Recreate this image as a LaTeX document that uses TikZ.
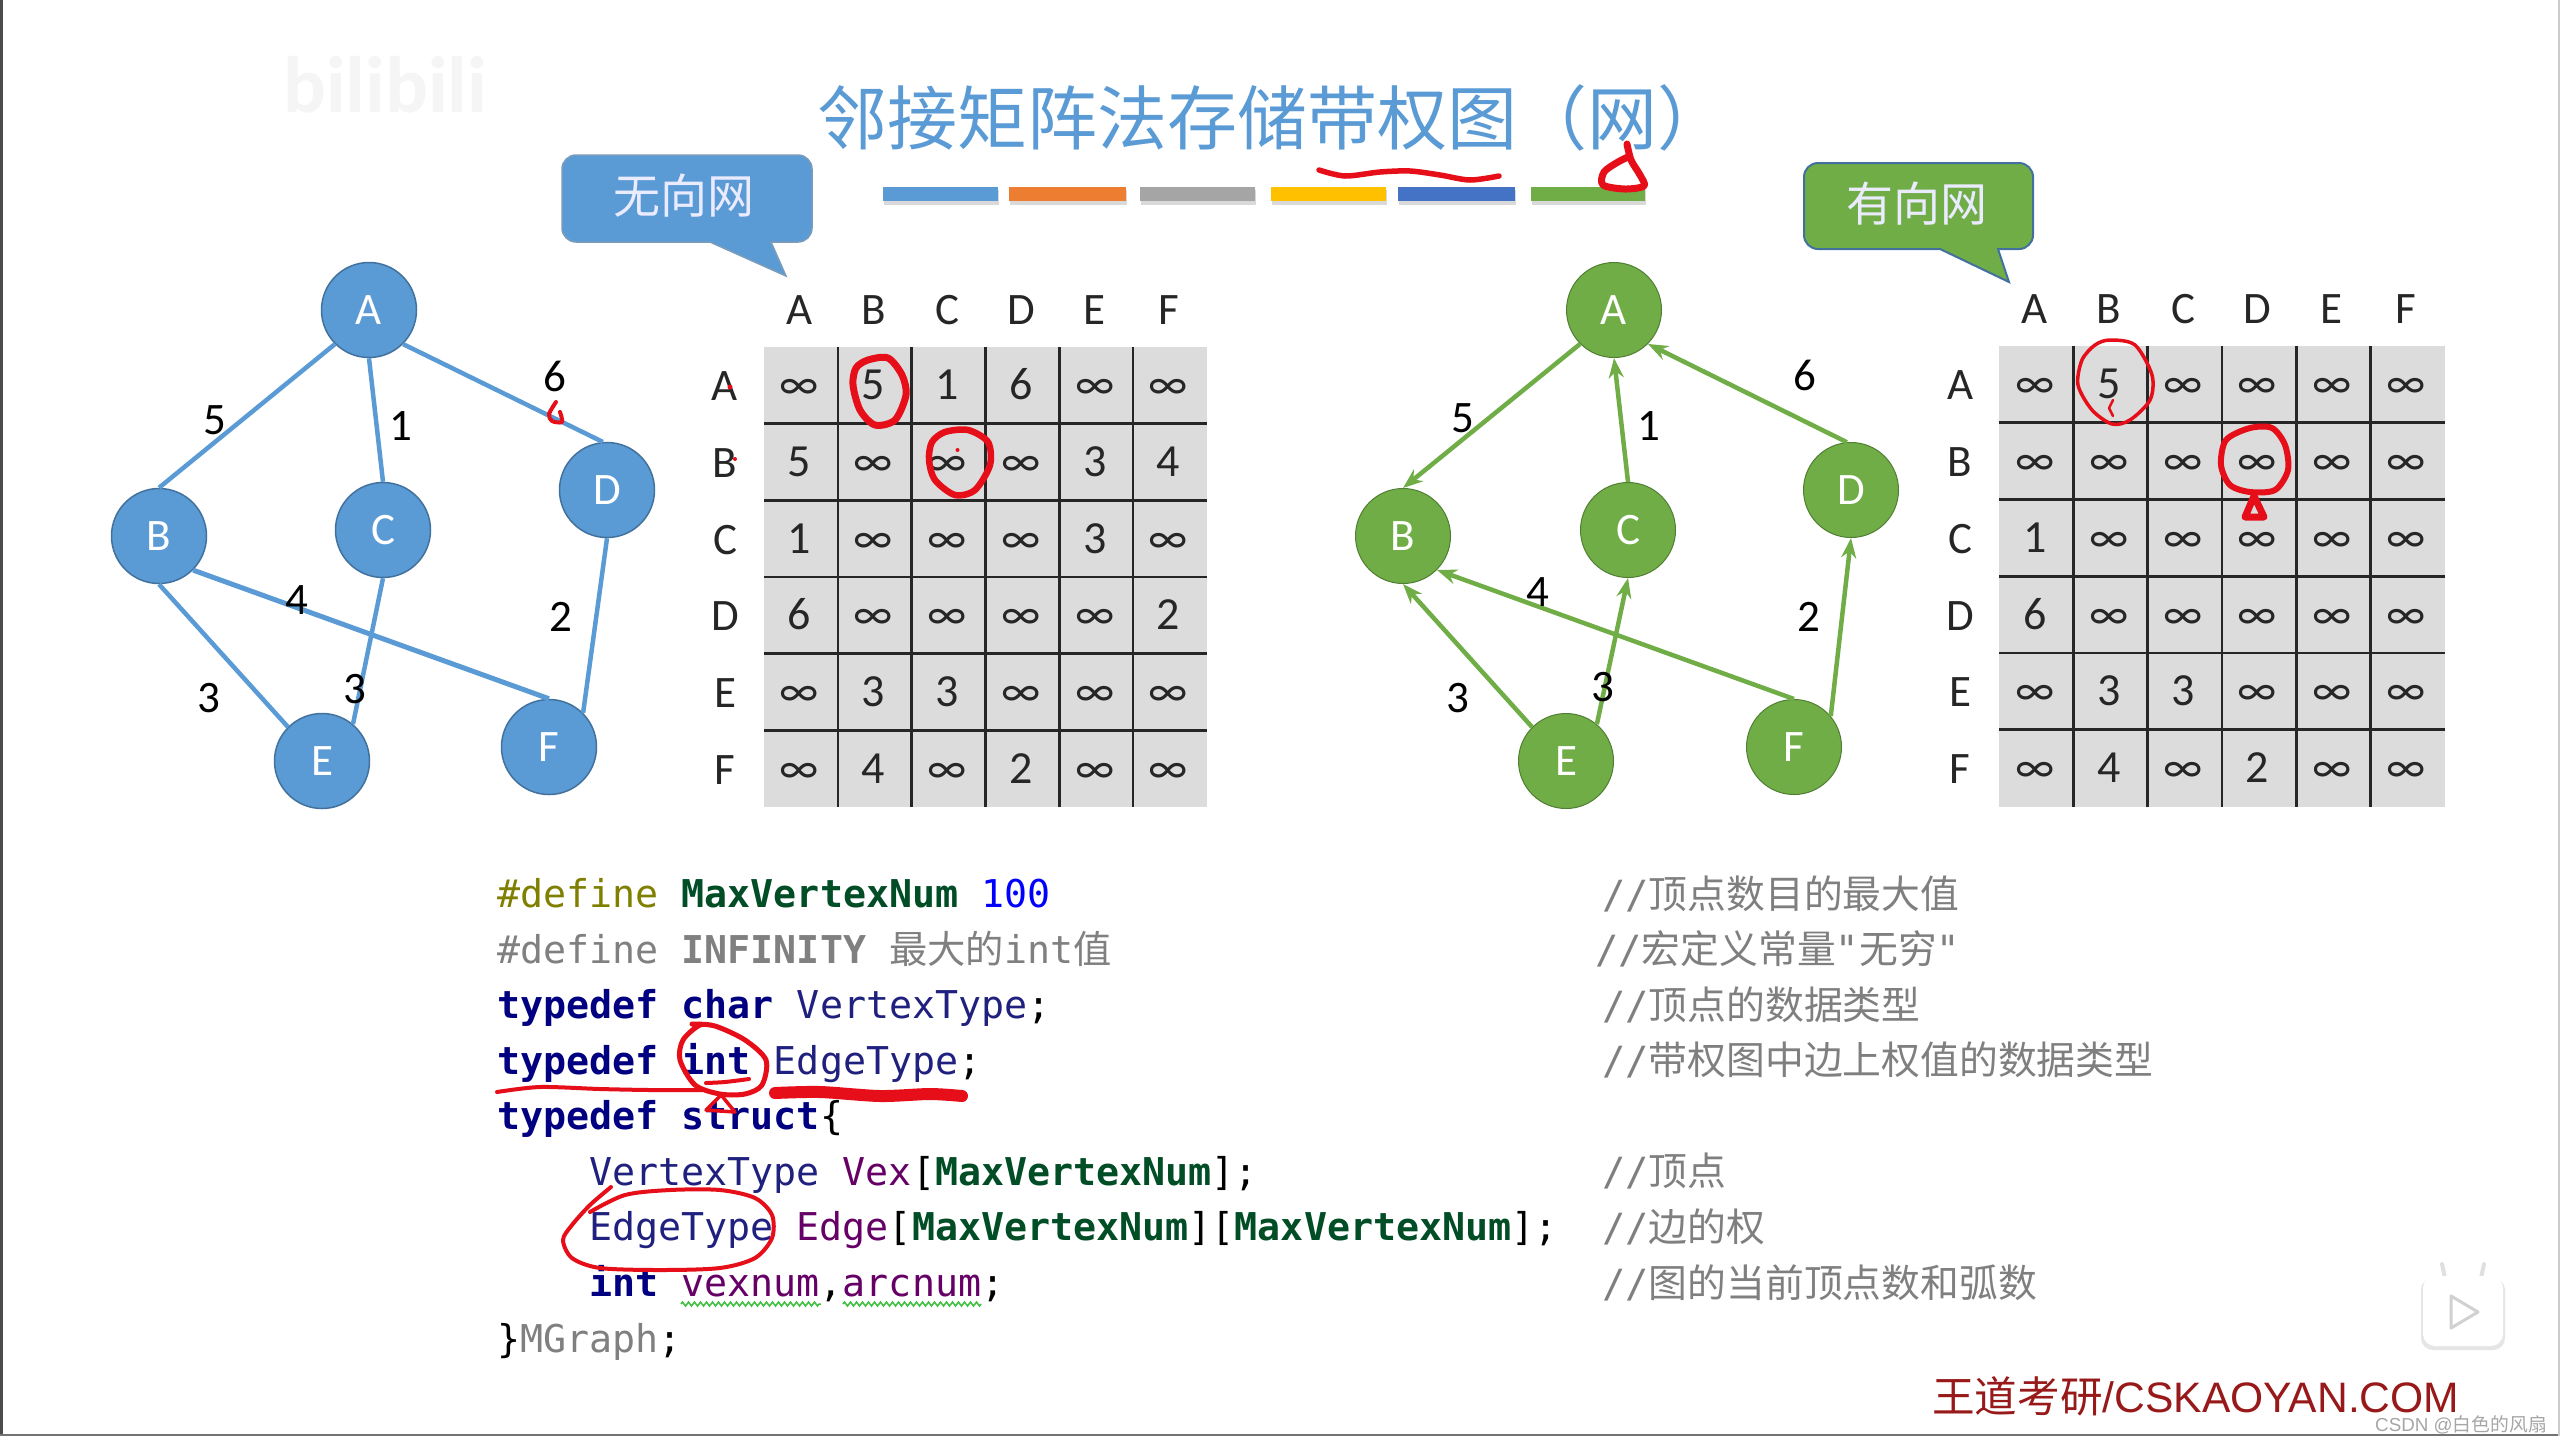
\documentclass[tikz,border=0pt]{standalone}
\usepackage{fontspec}
\setmainfont{Carlito}
\newfontfamily\cjkf{Noto Sans CJK SC}
\newfontfamily\monof{DejaVu Sans Mono}
\newfontfamily\arialf{Liberation Sans}
\usetikzlibrary{arrows.meta,decorations.pathmorphing}
\definecolor{bluec}{HTML}{5B9BD5}
\definecolor{blueb}{HTML}{41719C}
\definecolor{greenc}{HTML}{70AD47}
\definecolor{greenb}{HTML}{507E32}
\definecolor{cellc}{HTML}{DCDCDC}
\definecolor{inkred}{HTML}{E60F19}
\definecolor{kwc}{HTML}{000080}
\definecolor{typec}{HTML}{20207F}
\definecolor{defc}{HTML}{808000}
\definecolor{macc}{HTML}{004D26}
\definecolor{purc}{HTML}{660066}
\definecolor{grayc}{HTML}{808080}
\definecolor{cmtc}{HTML}{7F7F7F}
\newcommand{\fsz}[1]{\fontsize{#1}{#1}\selectfont}
\newcommand{\kwd}[1]{\textcolor{kwc}{\textbf{#1}}}
\newcommand{\tyy}[1]{\textcolor{typec}{#1}}
\newcommand{\mcr}[1]{\textcolor{macc}{\textbf{#1}}}
\newcommand{\pur}[1]{\textcolor{purc}{#1}}
\newcommand{\gry}[1]{\textcolor{grayc}{#1}}
\newcommand{\cmt}[1]{\monof //\cjkf #1}
\tikzset{
  vblue/.style={circle,draw=blueb,line width=1.5pt,fill=bluec,text=white,minimum size=95pt,inner sep=0pt,font=\fsz{45}},
  vgreen/.style={circle,draw=greenb,line width=1pt,fill=greenc,text=white,minimum size=95pt,inner sep=0pt,font=\fsz{45}},
  eblue/.style={draw=bluec,line width=4.5pt},
  egreen/.style={draw=greenc,line width=4.5pt,-{Stealth[length=20pt,width=15pt]}},
  wlabel/.style={text=black,font=\fsz{45},inner sep=0pt},
  celltxt/.style={text=black!85,font=\fsz{46},inner sep=0pt,text height=29pt,text depth=0pt},
  headtxt/.style={text=black!85,font=\fsz{45},inner sep=0pt},
  gridln/.style={draw=black!85,line width=2.6pt},
  code/.style={anchor=base west,inner sep=0pt,font=\monof\fsz{38.3}},
  comment/.style={anchor=base west,inner sep=0pt,text=cmtc,font=\fsz{38.8}},
  calltxt/.style={text=white!92!blue,font=\cjkf\fsz{47},inner sep=0pt},
  redink/.style={draw=inkred,line width=4.5pt,line cap=round,line join=round},
}
% #1 prefix, #2 x0, #3 y0, #4 cell w, #5 cell h, #6 values
\newcommand{\netmatrix}[6]{
  \fill[cellc] (#2,#3) rectangle ({#2+6*#4},{#3+6*#5});
  \foreach \k in {1,...,5} {
    \draw[gridln] ({#2+\k*#4},#3) -- ({#2+\k*#4},{#3+6*#5});
    \draw[gridln] (#2,{#3+\k*#5}) -- ({#2+6*#4},{#3+\k*#5});
  }
  \foreach \h [count=\c] in {A,B,C,D,E,F} {
    \node[headtxt] (#1top\h) at ({#2+(\c-.5)*#4-1.5},{#3-37}) {\h};
    \node[headtxt] (#1side\h) at ({#2-39},{#3+(\c-.5)*#5+1}) {\h};
  }
  \foreach \v [count=\n from 0] in {#6} {
    \pgfmathtruncatemacro{\rr}{int(\n/6)}
    \pgfmathtruncatemacro{\cc}{\n-6*\rr}
    \node[celltxt] (#1cell\rr\cc) at ({#2+(\cc+.5)*#4-1.5},{#3+(\rr+.5)*#5}) {\v};
  }
}
\begin{document}
\begin{tikzpicture}[x=1pt,y=-1pt]
\useasboundingbox (0,0) rectangle (2560,1436);
\fill[white] (0,0) rectangle (2560,1436);
\draw[black!70,line width=3pt] (1,0) -- (1,1436);
\draw[black!55,line width=2pt] (0,1435) -- (2560,1435);
\draw[black!20,line width=2pt] (2559,0) -- (2559,1436);
% faint watermark
\node[text=black!4,font=\bfseries\fsz{80},inner sep=0pt] (wm) at (385,85) {bilibili};
% title
\node[anchor=base west,inner sep=0pt,text=bluec,font=\cjkf\fsz{70}] (title) at (817,144) {邻接矩阵法存储带权图（网）};
% colour bars
\foreach \xa/\xb/\cl in {883/998/5B9BD5,1009/1126/ED7D31,1140/1255/A5A5A5,1271/1386/FFC000,1398/1515/4472C4,1531/1645/70AD47} {
  \fill[black!15] (\xa+1,190) rectangle (\xb+1,205);
  \definecolor{tmpc}{HTML}{\cl}
  \fill[tmpc] (\xa,187) rectangle (\xb,201);
}
% callouts
\draw[fill=bluec,draw=blueb!70,line width=1.5pt,rounded corners=14pt] (562,155) -- (812,155) -- (812,242) [sharp corners] -- (771,242) -- (786,276) -- (710,242) [rounded corners=14pt] -- (562,242) -- cycle;
\node[calltxt] (cb) at (684,196) {无向网};
\draw[fill=greenc,draw=blueb,line width=2pt,rounded corners=14pt] (1804,163) -- (2033,163) -- (2033,249) [sharp corners] -- (1998,249) -- (2009,282) -- (1940,249) [rounded corners=14pt] -- (1804,249) -- cycle;
\node[calltxt] (cg) at (1917,204) {有向网};
% undirected graph
\node[vblue] (A) at (369,310) {A};
\node[vblue] (B) at (159,536) {B};
\node[vblue] (C) at (383,530) {C};
\node[vblue] (D) at (607,490) {D};
\node[vblue] (E) at (322,761) {E};
\node[vblue] (F) at (549,747) {F};
\draw[eblue] (A.225) -- (B.north);
\draw[eblue] (A.south) -- (C.north);
\draw[eblue] (A.-45) -- (D.95);
\draw[eblue] (B.south) -- (E.135);
\draw[eblue,line width=5pt] (B.-45) -- (F.north);
\draw[eblue] (C.south) -- (E.50);
\draw[eblue] (D.south) -- (F.45);
\node[wlabel] (l1) at (215,420) {5};
\node[wlabel] (l2) at (401,426) {1};
\node[wlabel] (l3) at (555,376) {6};
\node[wlabel] (l4) at (297,600) {4};
\node[wlabel] (l5) at (561,617) {2};
\node[wlabel] (l6) at (209,698) {3};
\node[wlabel] (l7) at (355,689) {3};
% directed graph
\node[vgreen] (gA) at (1614,310) {A};
\node[vgreen] (gB) at (1403,536) {B};
\node[vgreen] (gC) at (1628,530) {C};
\node[vgreen] (gD) at (1851,490) {D};
\node[vgreen] (gE) at (1566,761) {E};
\node[vgreen] (gF) at (1794,747) {F};
\draw[egreen] (gA.225) -- (gB.north);
\draw[egreen] (gC.north) -- (gA.south);
\draw[egreen] (gD.95) -- (gA.-45);
\draw[egreen] (gE.135) -- (gB.south);
\draw[egreen] (gE.50) -- (gC.south);
\draw[egreen] (gF.north) -- (gB.-45);
\draw[egreen] (gF.40) -- (gD.south);
\node[wlabel] (m1) at (1463,418) {5};
\node[wlabel] (m2) at (1649,426) {1};
\node[wlabel] (m3) at (1805,375) {6};
\node[wlabel] (m4) at (1538,592) {4};
\node[wlabel] (m5) at (1809,617) {2};
\node[wlabel] (m6) at (1458,698) {3};
\node[wlabel] (m7) at (1603,687) {3};
% matrices
\netmatrix{u}{764}{347}{73.83}{76.67}{∞,5,1,6,∞,∞,5,∞,∞,∞,3,4,1,∞,∞,∞,3,∞,6,∞,∞,∞,∞,2,∞,3,3,∞,∞,∞,∞,4,∞,2,∞,∞}
\netmatrix{d}{1999}{346}{74.3}{76.75}{∞,5,∞,∞,∞,∞,∞,∞,∞,∞,∞,∞,1,∞,∞,∞,∞,∞,6,∞,∞,∞,∞,∞,∞,3,3,∞,∞,∞,∞,4,∞,2,∞,∞}
% code
\node[code] (c1) at (497,907) {\textcolor{defc}{\#define} \mcr{MaxVertexNum} \textcolor{blue}{100}};
\node[code] (c2) at (497,963) {\gry{\#define \textbf{INFINITY} {\cjkf 最大的}int{\cjkf 值}}};
\node[code] (c3) at (497,1018) {\kwd{typedef} \kwd{char} \tyy{VertexType};};
\node[code] (c4) at (497,1074) {\kwd{typedef} \kwd{int} \tyy{EdgeType};};
\node[code] (c5) at (497,1129) {\kwd{typedef} \kwd{struct}\{};
\node[code] (c6) at (589,1185) {\tyy{VertexType} \pur{Vex}[\mcr{MaxVertexNum}];};
\node[code] (c7) at (589,1240) {\tyy{EdgeType} \pur{Edge}[\mcr{MaxVertexNum}][\mcr{MaxVertexNum}];};
\node[code] (c8) at (589,1296) {\kwd{int} \pur{vexnum},\pur{arcnum};};
\node[code] (c9) at (497,1352) {\}\gry{MGraph};};
\draw[green!50!gray,line width=1.5pt,decorate,decoration={zigzag,amplitude=2pt,segment length=6pt}] (681,1304) -- (821,1304);
\draw[green!50!gray,line width=1.5pt,decorate,decoration={zigzag,amplitude=2pt,segment length=6pt}] (843,1304) -- (981,1304);
% comments
\node[comment] (k1) at (1602,908) {\cmt{顶点数目的最大值}};
\node[comment] (k2) at (1595,963) {\cmt{宏定义常量}\monof"\cjkf 无穷\monof"};
\node[comment] (k3) at (1602,1019) {\cmt{顶点的数据类型}};
\node[comment] (k4) at (1602,1074) {\cmt{带权图中边上权值的数据类型}};
\node[comment] (k6) at (1602,1185) {\cmt{顶点}};
\node[comment] (k7) at (1602,1241) {\cmt{边的权}};
\node[comment] (k8) at (1602,1297) {\cmt{图的当前顶点数和弧数}};
% footer
\node[anchor=base west,inner sep=0pt,text=red!55!black!90,font=\fsz{42.6}] (foot) at (1932,1412) {{\cjkf 王道考研}{\arialf /CSKAOYAN.COM}};
\node[anchor=base east,inner sep=0pt,text=black!35,font=\fsz{18.8}] (csdn) at (2547,1431) {{\arialf CSDN @}{\cjkf 白色的风扇}};
% play badge
\draw[black!12,line width=4pt,line cap=round] (2445,1278) -- (2442,1264);
\draw[black!12,line width=4pt,line cap=round] (2481,1278) -- (2484,1264);
\fill[black!10,rounded corners=12pt] (2421,1278) rectangle (2505,1350);
\fill[white,rounded corners=12pt] (2423,1276) rectangle (2503,1346);
\draw[black!18,line width=3pt,line join=round] (2451,1296) -- (2478,1312) -- (2451,1328) -- cycle;
% red ink: title
\draw[redink,line width=5.5pt] plot[smooth] coordinates {(1319,170) (1345,176) (1380,172) (1410,171) (1440,175) (1470,180) (1499,176)};
\draw[redink,line width=7pt] plot[smooth] coordinates {(1627,144) (1631,160) (1640,175) (1644,186) (1625,189) (1603,185) (1604,172) (1618,162) (1630,156)};
% red ink: undirected matrix
\draw[redink,line width=7pt] plot[smooth cycle] coordinates {(868,360) (888,358) (902,375) (906,395) (895,420) (875,425) (860,410) (853,385) (856,368)};
\draw[redink,line width=6.5pt] plot[smooth cycle] coordinates {(945,432) (968,430) (988,442) (990,465) (975,490) (955,495) (935,480) (929,460) (932,442)};
\fill[inkred] (957.5,450) circle (2pt);
\draw[redink,line width=4pt] plot[smooth] coordinates {(556,402) (549,414) (552,421) (562,422) (560,412)};
\fill[inkred] (730,387) circle (2.5pt);
\fill[inkred] (735,459) circle (2pt);
% red ink: directed matrix
\draw[redink,line width=3.5pt] plot[smooth cycle] coordinates {(2110,340) (2135,345) (2152,375) (2150,400) (2130,420) (2112,424) (2092,410) (2078,385) (2082,360) (2095,345)};
\draw[redink,line width=2.5pt] (2113,400) -- (2109,408) -- (2113,416);
\draw[redink,line width=6pt] plot[smooth cycle] coordinates {(2250,428) (2272,428) (2285,445) (2288,470) (2275,490) (2250,492) (2230,485) (2221,465) (2226,440)};
\draw[redink,line width=7pt] (2254,496) -- (2264,517) -- (2245,517) -- cycle;
% red ink: code
\draw[redink,line width=5pt] plot[smooth] coordinates {(692,1024) (715,1026) (745,1040) (766,1060) (762,1085) (745,1094) (720,1094) (695,1085) (680,1060) (683,1040) (700,1025) (715,1026)};
\draw[redink,line width=4pt] plot[smooth] coordinates {(497,1092) (540,1087) (600,1089) (650,1090) (703,1090)};
\draw[redink,line width=12pt] plot[smooth] coordinates {(775,1093) (820,1092) (880,1096) (930,1094) (962,1096)};
\draw[redink,line width=4pt] plot[smooth] coordinates {(706,1083) (725,1082) (749,1079)};
\draw[redink,line width=3.5pt] (720,1096) -- (706,1110) -- (735,1112) -- (722,1096);
\draw[redink,line width=4pt] plot[smooth] coordinates {(611,1187) (590,1205) (572,1225) (563,1240) (572,1258) (600,1268) (660,1270) (720,1268) (755,1258) (772,1238) (772,1215) (755,1198) (720,1190) (670,1190) (625,1195) (590,1212)};
\end{tikzpicture}
\end{document}
